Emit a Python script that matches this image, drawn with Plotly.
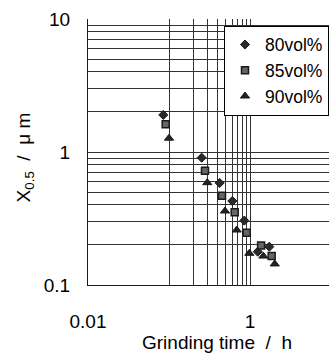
import plotly.graph_objects as go

# Grinding time (h) and median particle size X0.5 (µm) for each slurry concentration
time_80 = [0.085, 0.253, 0.422, 0.605, 0.85, 1.245, 1.73]
size_80 = [1.90, 0.906, 0.585, 0.428, 0.305, 0.178, 0.194]

time_85 = [0.091, 0.278, 0.451, 0.647, 0.91, 1.37, 1.85]
size_85 = [1.62, 0.723, 0.469, 0.352, 0.247, 0.198, 0.165]

time_90 = [0.100, 0.297, 0.491, 0.685, 0.98, 1.46, 2.02]
size_90 = [1.27, 0.588, 0.360, 0.259, 0.173, 0.165, 0.144]

series_names = ["80vol%", "85vol%", "90vol%"]

# Axis ticks: labelled decades plus unlabelled minor grid positions
x_tickvals = [0.01, 0.1, 0.2, 0.3, 0.4, 0.5, 0.6, 0.7, 0.8, 0.9, 1]
x_ticktext = ["0.01", "", "", "", "", "", "", "", "", "", "1"]
y_tickvals = [0.1, 0.2, 0.3, 0.4, 0.5, 0.6, 0.7, 0.8, 0.9,
              1, 2, 3, 4, 5, 6, 7, 8, 9, 10]
y_ticktext = ["0.1", "", "", "", "", "", "", "", "",
              "1", "", "", "", "", "", "", "", "", "10"]

FONT = "Liberation Sans, Arial, sans-serif"
INK = "#1a1a1a"
GAP = "\u00a0\u00a0"  # wide spacing around the unit slash

fig = go.Figure()
fig.add_trace(go.Scatter(
    x=time_80, y=size_80, mode="markers", name=series_names[0],
    marker=dict(symbol="diamond", size=7, color="#2a2a2a",
                line=dict(color=INK, width=1)),
))
fig.add_trace(go.Scatter(
    x=time_85, y=size_85, mode="markers", name=series_names[1],
    marker=dict(symbol="square", size=7, color="#666666",
                line=dict(color=INK, width=1.5)),
))
fig.add_trace(go.Scatter(
    x=time_90, y=size_90, mode="markers", name=series_names[2],
    marker=dict(symbol="triangle-up", size=8, color="#222222",
                line=dict(color=INK, width=1)),
))

fig.update_layout(
    width=329, height=356,
    margin=dict(l=88, r=0, t=19, b=71),
    paper_bgcolor="white", plot_bgcolor="white",
    font=dict(family=FONT, size=19, color="black"),
    showlegend=True,
    legend=dict(
        x=1, xanchor="right", y=0.975, yanchor="top",
        bgcolor="white", bordercolor="black", borderwidth=1,
        font=dict(family=FONT, size=17.5, color="black"),
        itemwidth=30, tracegroupgap=0,
    ),
    annotations=[
        dict(text="Grinding time" + GAP + "/" + GAP + "h",
             xref="paper", yref="paper",
             x=0.535, y=-0.218, xanchor="center", yanchor="middle",
             showarrow=False, font=dict(family=FONT, size=19)),
        dict(text="X<sub>0.5</sub>" + GAP + "/" + GAP + "μ\u00a0m",
             xref="paper", yref="paper",
             x=-0.26, y=0.481, xanchor="center", yanchor="middle",
             textangle=-90, showarrow=False, font=dict(family=FONT, size=19)),
    ],
)

fig.update_xaxes(
    type="log", range=[-2, 0.975],
    tickmode="array", tickvals=x_tickvals, ticktext=x_ticktext,
    showgrid=True, gridcolor="#333333", gridwidth=1,
    showline=True, linecolor=INK, linewidth=1, mirror=False,
    ticks="", ticklabelstandoff=19, zeroline=False,
)
fig.update_yaxes(
    type="log", range=[-1, 1],
    tickmode="array", tickvals=y_tickvals, ticktext=y_ticktext,
    showgrid=True, gridcolor="#333333", gridwidth=1,
    showline=True, linecolor=INK, linewidth=1, mirror=False,
    ticks="", ticklabelstandoff=13, zeroline=False,
)

fig.write_html("out.html")
